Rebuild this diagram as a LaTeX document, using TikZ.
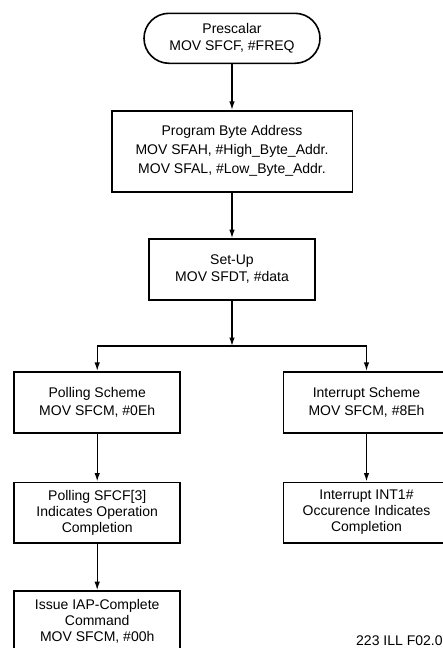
\documentclass[tikz,border=0pt]{standalone}
\usepackage{fontspec}
\setmainfont{Liberation Sans}
\usetikzlibrary{arrows.meta}
\begin{document}
\begin{tikzpicture}[x=1pt,y=-1pt,
  every node/.style={font=\fontsize{14}{17}\selectfont, align=center, inner sep=0pt},
  stepbox/.style={draw, line width=1.6pt, minimum width=166pt, minimum height=61pt},
  startbox/.style={draw, line width=1.6pt, rounded corners=25pt, minimum width=176pt, minimum height=50pt},
  flow/.style={line width=1.3pt, -{Latex[length=8.5pt,width=5.5pt]}},
  plain/.style={line width=1.3pt}]
  \useasboundingbox (0,0) rectangle (443,648);
  \clip (0,0) rectangle (443,648);

  % main column
  \node[startbox] (pre) at (232,38.3) {Prescalar\\MOV SFCF, \#FREQ};
  \node[stepbox, minimum width=240.6pt, minimum height=81pt, font=\fontsize{14}{19}\selectfont] (prog) at (232,151.2)
    {Program Byte Address\\MOV SFAH, \#High\_Byte\_Addr.\\MOV SFAL, \#Low\_Byte\_Addr.};
  \node[stepbox] (setup) at (232,269.5) {Set-Up\\MOV SFDT, \#data};

  % polling branch
  \node[stepbox, font=\fontsize{14}{18.3}\selectfont] (poll) at (97.2,402.2) {Polling Scheme\\MOV SFCM, \#0Eh};
  \node[stepbox, minimum height=60.4pt, font=\fontsize{14}{16}\selectfont] (pollf) at (97.2,512.5)
    {Polling SFCF[3]\\Indicates Operation\\Completion};
  \node[stepbox, minimum height=60pt, font=\fontsize{14}{16}\selectfont] (issue) at (97.2,621)
    {Issue IAP-Complete\\Command\\MOV SFCM, \#00h};

  % interrupt branch
  \node[stepbox, font=\fontsize{14}{18.3}\selectfont] (intr) at (366.5,402.2) {Interrupt Scheme\\MOV SFCM, \#8Eh};
  \node[stepbox, minimum height=60.4pt, font=\fontsize{14}{16}\selectfont] (intc) at (366.5,512.5)
    {Interrupt INT1\#\\Occurence Indicates\\Completion};

  % split point below the set-up step
  \coordinate (split) at (232,346);
  \coordinate (splitL) at (97.2,346);
  \coordinate (splitR) at (366.5,346);

  \draw[flow] (pre) -- (prog);
  \draw[flow] (prog) -- (setup);
  \draw[flow] (setup) -- (split);
  \draw[plain] (splitL) -- (splitR);
  \draw[flow] ([yshift=-0.65pt]splitL) -- (poll);
  \draw[flow] ([yshift=-0.65pt]splitR) -- (intr);
  \draw[flow] (poll) -- (pollf);
  \draw[flow] (pollf) -- (issue);
  \draw[flow] (intr) -- (intc);

  \node[anchor=base west] (tag) at (356,645) {223 ILL F02.0};
\end{tikzpicture}
\end{document}
